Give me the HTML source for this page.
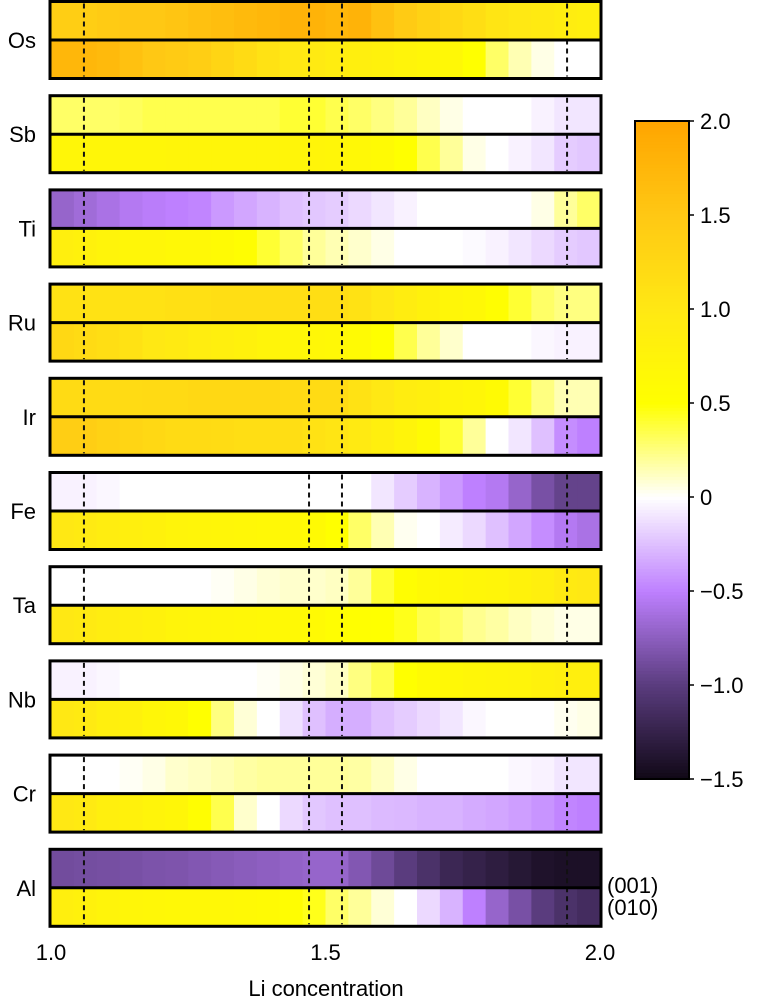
<!DOCTYPE html>
<html><head><meta charset="utf-8"><style>
html,body{margin:0;padding:0;background:#fff;}
svg{display:block;font-family:"Liberation Sans",Arial,sans-serif;}
</style></head><body>
<svg id="chart" width="761" height="1002" viewBox="0 0 761 1002" xmlns="http://www.w3.org/2000/svg"></svg>
<script>
const elements = ["Os","Sb","Ti","Ru","Ir","Fe","Ta","Nb","Cr","Al"];
const xTicks = [1.0, 1.5, 2.0];
const xTickLabels = ["1.0","1.5","2.0"];
const dashX = [1.06, 1.47, 1.53, 1.94];
const cbTicks = [2.0, 1.5, 1.0, 0.5, 0, -0.5, -1.0, -1.5];
const cbTickLabels = ["2.0","1.5","1.0","0.5","0","\u22120.5","\u22121.0","\u22121.5"];
const row001 = [
[1.4,1.4,1.45,1.5,1.5,1.55,1.6,1.65,1.7,1.75,1.8,1.8,1.75,1.8,1.6,1.45,1.35,1.25,1.15,1.05,1.0,0.95,0.9,0.85],
[0.3,0.3,0.3,0.32,0.35,0.35,0.35,0.35,0.35,0.35,0.4,0.4,0.35,0.3,0.25,0.2,0.12,0.05,0,0,0,-0.05,-0.1,-0.1],
[-0.7,-0.65,-0.6,-0.55,-0.52,-0.5,-0.48,-0.4,-0.35,-0.3,-0.25,-0.22,-0.2,-0.15,-0.1,-0.05,0,0,0,0,0,0.05,0.2,0.3],
[1.1,1.1,1.1,1.1,1.1,1.12,1.12,1.15,1.15,1.15,1.15,1.15,1.15,1.1,1.0,0.9,0.8,0.7,0.65,0.55,0.4,0.3,0.25,0.25],
[1.2,1.2,1.2,1.2,1.22,1.22,1.25,1.25,1.25,1.25,1.22,1.2,1.2,1.1,1.0,0.9,0.85,0.75,0.7,0.6,0.4,0.25,0.15,0.15],
[-0.05,-0.05,-0.03,0,0,0,0,0,0,0,0,0,0,0,-0.1,-0.2,-0.3,-0.4,-0.5,-0.55,-0.7,-0.85,-0.95,-0.95],
[0,0,0,0,0,0,0,0.02,0.05,0.08,0.1,0.1,0.12,0.2,0.4,0.55,0.62,0.65,0.7,0.72,0.78,0.85,0.95,1.0],
[-0.05,-0.05,-0.03,0,0,0,0,0,0,0.02,0.05,0.08,0.12,0.25,0.35,0.5,0.6,0.65,0.7,0.72,0.75,0.8,0.85,0.85],
[0,0,0,0.02,0.05,0.1,0.12,0.15,0.18,0.2,0.2,0.2,0.2,0.18,0.12,0.05,0,0,0,0,-0.03,-0.05,-0.1,-0.1],
[-0.88,-0.87,-0.86,-0.85,-0.83,-0.82,-0.8,-0.78,-0.76,-0.74,-0.72,-0.7,-0.7,-0.8,-0.9,-1.0,-1.1,-1.2,-1.25,-1.3,-1.35,-1.4,-1.42,-1.42]
];
const row010 = [
[1.75,1.75,1.7,1.6,1.5,1.45,1.4,1.3,1.2,1.1,1.0,0.95,0.9,0.85,0.8,0.75,0.7,0.65,0.5,0.3,0.15,0.05,0,0],
[0.7,0.7,0.7,0.7,0.7,0.72,0.72,0.72,0.72,0.72,0.72,0.72,0.7,0.65,0.6,0.5,0.35,0.2,0.05,0,-0.05,-0.1,-0.2,-0.22],
[0.85,0.8,0.75,0.7,0.7,0.65,0.65,0.6,0.55,0.4,0.3,0.2,0.15,0.1,0.05,0,0,0,-0.02,-0.05,-0.1,-0.15,-0.2,-0.22],
[1.25,1.2,1.15,1.1,1.0,0.95,0.9,0.85,0.8,0.75,0.7,0.68,0.65,0.6,0.5,0.35,0.2,0.1,0,0,0,-0.03,-0.05,-0.05],
[1.4,1.4,1.35,1.3,1.25,1.2,1.2,1.18,1.15,1.15,1.15,1.1,1.05,0.95,0.85,0.75,0.6,0.4,0.2,0,-0.1,-0.25,-0.45,-0.5],
[1.0,0.95,0.9,0.85,0.8,0.75,0.72,0.7,0.68,0.65,0.65,0.6,0.5,0.3,0.15,0.03,0,-0.08,-0.15,-0.25,-0.35,-0.45,-0.55,-0.6],
[1.0,0.95,0.9,0.85,0.8,0.75,0.72,0.7,0.68,0.65,0.62,0.6,0.55,0.52,0.5,0.45,0.35,0.3,0.22,0.18,0.12,0.08,0.05,0.05],
[1.0,0.95,0.85,0.8,0.7,0.65,0.5,0.25,0.08,0,-0.12,-0.25,-0.32,-0.32,-0.25,-0.2,-0.15,-0.1,-0.03,0,0,0,0.03,0.05],
[1.0,0.95,0.85,0.8,0.75,0.7,0.55,0.35,0.1,0,-0.15,-0.22,-0.25,-0.25,-0.27,-0.28,-0.3,-0.3,-0.33,-0.35,-0.38,-0.42,-0.48,-0.5],
[0.85,0.8,0.75,0.7,0.68,0.66,0.65,0.65,0.63,0.6,0.55,0.45,0.3,0.2,0.08,0,-0.15,-0.3,-0.5,-0.7,-0.85,-1.0,-1.1,-1.15]
];
const NS="http://www.w3.org/2000/svg";
const svg=document.getElementById('chart');
function mk(tag,attrs,parent){const e=document.createElementNS(NS,tag);for(const k in attrs)e.setAttribute(k,attrs[k]);(parent||svg).appendChild(e);return e;}
// colormap
const stops=[[-1.5,[16,8,22]],[-1.0,[90,60,126]],[-0.5,[190,128,255]],[0,[255,255,255]],[0.5,[255,255,0]],[1.0,[255,232,20]],[1.5,[255,200,20]],[2.0,[255,165,0]]];
function cmap(v){v=Math.max(-1.5,Math.min(2,v));for(let i=0;i<stops.length-1;i++){const a=stops[i],b=stops[i+1];if(v<=b[0]){const t=(v-a[0])/(b[0]-a[0]);const c=a[1].map((x,j)=>Math.round(x+(b[1][j]-x)*t));return `rgb(${c[0]},${c[1]},${c[2]})`;}}return 'rgb(255,165,0)';}
const X0=51,X1=600;
function xs(v){return X0+(v-1)/(1)*(X1-X0);}
const pitch=94.2, panelTop=1.5, panelH=77;
for(let p=0;p<elements.length;p++){
  const y0=panelTop+p*pitch;
  const g=mk('g',{});
  
  
  const rows=[row001[p],row010[p]];
  for(let r=0;r<2;r++){
    const vals=rows[r];const n=vals.length;
    const ry=y0+(r===0?0:panelH/2), rh=panelH/2;
    for(let i=0;i<n;i++){
      const xa=xs(1+i/n), xb=xs(1+(i+1)/n);
      const c=mk('rect',{x:xa,y:ry,width:xb-xa+0.6,height:rh,fill:cmap(vals[i])},g);
      
      
    }
  }
  for(const d of dashX){
    const l=mk('line',{x1:xs(d),x2:xs(d),y1:y0+2,y2:y0+panelH-2,stroke:'#111','stroke-width':2,'stroke-dasharray':'5,4'},g);
    
    
  }
  mk('line',{x1:X0,x2:X1,y1:y0+panelH/2,y2:y0+panelH/2,stroke:'#000','stroke-width':3},g);
  mk('rect',{x:X0-1,y:y0,width:X1-X0+2,height:panelH,fill:'none',stroke:'#000','stroke-width':3},g);
  const t=mk('text',{x:36,y:y0+panelH/2+8,'font-size':22,'text-anchor':'end',fill:'#000'},g);
  t.textContent=elements[p];
  
  
}
// row labels
const l1=mk('text',{x:607,y:893,'font-size':22,fill:'#000'});l1.textContent='(001)';


const l2=mk('text',{x:607,y:915,'font-size':22,fill:'#000'});l2.textContent='(010)';


// x ticks
for(let i=0;i<xTicks.length;i++){
  const t=mk('text',{x:xs(xTicks[i]),y:960,'font-size':22,'text-anchor':'middle',fill:'#000'});
  t.textContent=xTickLabels[i];
  
  
}
const xt=mk('text',{x:326,y:996,'font-size':22,'text-anchor':'middle',fill:'#000'});xt.textContent='Li concentration';


// colorbar
const CB={x:635,w:54,top:121,bot:779,vmin:-1.5,vmax:2.0};
function cy(v){return CB.bot-(v-CB.vmin)/(CB.vmax-CB.vmin)*(CB.bot-CB.top);}
const cbg=mk('g',{});


for(let k=0;k<200;k++){
  const v0=CB.vmin+k*(CB.vmax-CB.vmin)/200, v1=CB.vmin+(k+1)*(CB.vmax-CB.vmin)/200;
  mk('rect',{x:CB.x,y:cy(v1),width:CB.w,height:cy(v0)-cy(v1)+0.6,fill:cmap((v0+v1)/2)},cbg);
}
mk('rect',{x:CB.x,y:CB.top,width:CB.w,height:CB.bot-CB.top,fill:'none',stroke:'#000','stroke-width':2},cbg);
for(let i=0;i<cbTicks.length;i++){
  const y=cy(cbTicks[i]);
  mk('line',{x1:CB.x+CB.w,x2:CB.x+CB.w+5,y1:y,y2:y,stroke:'#000','stroke-width':1.5},cbg);
  const t=mk('text',{x:700,y:y+8,'font-size':22,fill:'#000'},cbg);
  t.textContent=cbTickLabels[i];
  
  
}
</script>
</body></html>
